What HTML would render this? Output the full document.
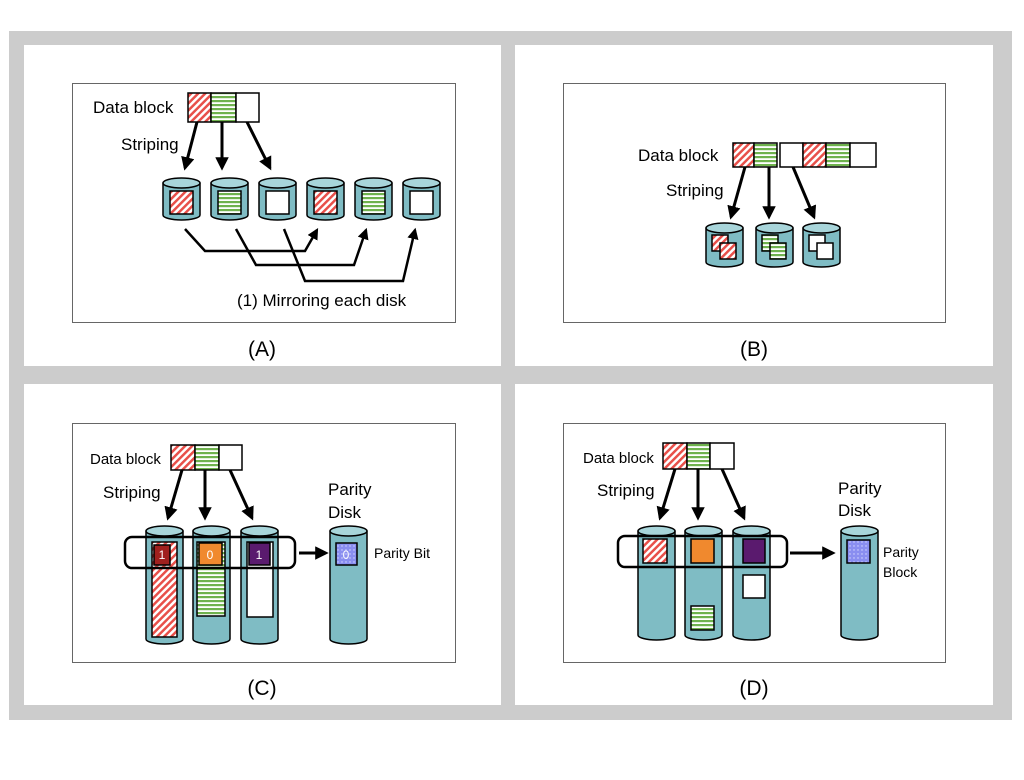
<!DOCTYPE html>
<html><head><meta charset="utf-8"><style>
html,body{margin:0;padding:0;background:#fff;}
svg{display:block;font-family:"Liberation Sans",sans-serif;}
</style></head><body>
<svg width="1024" height="780" viewBox="0 0 1024 780" xmlns="http://www.w3.org/2000/svg">
<defs>
<pattern id="red" patternUnits="userSpaceOnUse" width="5" height="5" patternTransform="rotate(45)">
<rect width="5" height="5" fill="#fff"/><rect width="2.5" height="5" fill="#e8504a"/></pattern>
<pattern id="grn" patternUnits="userSpaceOnUse" width="4" height="4">
<rect width="4" height="4" fill="#fff"/><rect width="4" height="2.2" fill="#6fb24e"/></pattern>
<pattern id="blu" patternUnits="userSpaceOnUse" width="4" height="4">
<rect width="4" height="4" fill="#8a8ef0"/><circle cx="2" cy="2" r="0.7" fill="#d8daff"/></pattern>
<marker id="ah" viewBox="0 0 10 10" refX="8" refY="5" markerWidth="4.5" markerHeight="4.5" orient="auto">
<path d="M0,0 L10,5 L0,10 z" fill="#000"/></marker>
</defs>
<rect x="9" y="31" width="1003" height="689" fill="#cccccc"/>
<rect x="24" y="45" width="477" height="321" fill="#fff"/>
<rect x="515" y="45" width="478" height="321" fill="#fff"/>
<rect x="24" y="384" width="477" height="321" fill="#fff"/>
<rect x="515" y="384" width="478" height="321" fill="#fff"/>
<g fill="none" stroke="#666" stroke-width="1">
<rect x="72.5" y="83.5" width="383" height="239"/>
<rect x="563.5" y="83.5" width="382" height="239"/>
<rect x="72.5" y="423.5" width="383" height="239"/>
<rect x="563.5" y="423.5" width="382" height="239"/>
</g>
<g font-size="21" fill="#000" text-anchor="middle">
<text x="262" y="356">(A)</text><text x="754" y="356">(B)</text>
<text x="262" y="695">(C)</text><text x="754" y="695">(D)</text>
</g>

<!-- Panel A -->
<text x="93" y="113" font-size="17">Data block</text>
<text x="121" y="150" font-size="17">Striping</text>
<g stroke="#000" stroke-width="1.5">
<rect x="188" y="93" width="23" height="29" fill="url(#red)"/>
<rect x="211" y="93" width="25" height="29" fill="url(#grn)"/>
<rect x="236" y="93" width="23" height="29" fill="#fff"/>
</g>
<g stroke="#000" stroke-width="3" marker-end="url(#ah)" fill="none">
<line x1="197" y1="122" x2="185" y2="168"/>
<line x1="222" y1="122" x2="222" y2="168"/>
<line x1="247" y1="122" x2="270" y2="168"/>
</g>
<g stroke="#000" stroke-width="1.5">
<g transform="translate(163,177)"><path d="M0,6 L0,38 A18.5,5 0 0 0 37,38 L37,6" fill="#7fbcc4"/><ellipse cx="18.5" cy="6" rx="18.5" ry="5" fill="#a8d5da"/><rect x="7" y="14" width="23" height="23" fill="url(#red)"/></g>
<g transform="translate(211,177)"><path d="M0,6 L0,38 A18.5,5 0 0 0 37,38 L37,6" fill="#7fbcc4"/><ellipse cx="18.5" cy="6" rx="18.5" ry="5" fill="#a8d5da"/><rect x="7" y="14" width="23" height="23" fill="url(#grn)"/></g>
<g transform="translate(259,177)"><path d="M0,6 L0,38 A18.5,5 0 0 0 37,38 L37,6" fill="#7fbcc4"/><ellipse cx="18.5" cy="6" rx="18.5" ry="5" fill="#a8d5da"/><rect x="7" y="14" width="23" height="23" fill="#fff"/></g>
<g transform="translate(307,177)"><path d="M0,6 L0,38 A18.5,5 0 0 0 37,38 L37,6" fill="#7fbcc4"/><ellipse cx="18.5" cy="6" rx="18.5" ry="5" fill="#a8d5da"/><rect x="7" y="14" width="23" height="23" fill="url(#red)"/></g>
<g transform="translate(355,177)"><path d="M0,6 L0,38 A18.5,5 0 0 0 37,38 L37,6" fill="#7fbcc4"/><ellipse cx="18.5" cy="6" rx="18.5" ry="5" fill="#a8d5da"/><rect x="7" y="14" width="23" height="23" fill="url(#grn)"/></g>
<g transform="translate(403,177)"><path d="M0,6 L0,38 A18.5,5 0 0 0 37,38 L37,6" fill="#7fbcc4"/><ellipse cx="18.5" cy="6" rx="18.5" ry="5" fill="#a8d5da"/><rect x="7" y="14" width="23" height="23" fill="#fff"/></g>
</g>
<g stroke="#000" stroke-width="2.5" fill="none" marker-end="url(#ah)">
<polyline points="185,229 205,251 305,251 317,230"/>
<polyline points="236,229 256,265 354,265 366,230"/>
<polyline points="284,229 305,281 403,281 415,230"/>
</g>
<text x="237" y="306" font-size="17">(1) Mirroring each disk</text>

<!-- Panel B -->
<text x="638" y="161" font-size="17">Data block</text>
<text x="666" y="196" font-size="17">Striping</text>
<g stroke="#000" stroke-width="1.5">
<rect x="733" y="143" width="21" height="24" fill="url(#red)"/>
<rect x="754" y="143" width="23" height="24" fill="url(#grn)"/>
<rect x="780" y="143" width="23" height="24" fill="#fff"/>
<rect x="803" y="143" width="23" height="24" fill="url(#red)"/>
<rect x="826" y="143" width="24" height="24" fill="url(#grn)"/>
<rect x="850" y="143" width="26" height="24" fill="#fff"/>
</g>
<g stroke="#000" stroke-width="3" marker-end="url(#ah)" fill="none">
<line x1="745" y1="167" x2="731" y2="217"/>
<line x1="769" y1="167" x2="769" y2="217"/>
<line x1="793" y1="167" x2="814" y2="217"/>
</g>
<g stroke="#000" stroke-width="1.5">
<g transform="translate(706,222)"><path d="M0,6 L0,40 A18.5,5 0 0 0 37,40 L37,6" fill="#7fbcc4"/><ellipse cx="18.5" cy="6" rx="18.5" ry="5" fill="#a8d5da"/><rect x="6" y="13" width="16" height="16" fill="url(#red)"/><rect x="14" y="21" width="16" height="16" fill="url(#red)"/></g>
<g transform="translate(756,222)"><path d="M0,6 L0,40 A18.5,5 0 0 0 37,40 L37,6" fill="#7fbcc4"/><ellipse cx="18.5" cy="6" rx="18.5" ry="5" fill="#a8d5da"/><rect x="6" y="13" width="16" height="16" fill="url(#grn)"/><rect x="14" y="21" width="16" height="16" fill="url(#grn)"/></g>
<g transform="translate(803,222)"><path d="M0,6 L0,40 A18.5,5 0 0 0 37,40 L37,6" fill="#7fbcc4"/><ellipse cx="18.5" cy="6" rx="18.5" ry="5" fill="#a8d5da"/><rect x="6" y="13" width="16" height="16" fill="#fff"/><rect x="14" y="21" width="16" height="16" fill="#fff"/></g>
</g>

<!-- Panel C -->
<text x="90" y="464" font-size="15">Data block</text>
<text x="103" y="498" font-size="17">Striping</text>
<g stroke="#000" stroke-width="1.5">
<rect x="171" y="445" width="24" height="25" fill="url(#red)"/>
<rect x="195" y="445" width="24" height="25" fill="url(#grn)"/>
<rect x="219" y="445" width="23" height="25" fill="#fff"/>
</g>
<g stroke="#000" stroke-width="3" marker-end="url(#ah)" fill="none">
<line x1="182" y1="470" x2="168" y2="518"/>
<line x1="205" y1="470" x2="205" y2="518"/>
<line x1="230" y1="470" x2="252" y2="518"/>
</g>
<g stroke="#000" stroke-width="1.5">
<g transform="translate(146,525)"><path d="M0,6 L0,114 A18.5,5 0 0 0 37,114 L37,6" fill="#7fbcc4"/><ellipse cx="18.5" cy="6" rx="18.5" ry="5" fill="#a8d5da"/></g>
<g transform="translate(193,525)"><path d="M0,6 L0,114 A18.5,5 0 0 0 37,114 L37,6" fill="#7fbcc4"/><ellipse cx="18.5" cy="6" rx="18.5" ry="5" fill="#a8d5da"/></g>
<g transform="translate(241,525)"><path d="M0,6 L0,114 A18.5,5 0 0 0 37,114 L37,6" fill="#7fbcc4"/><ellipse cx="18.5" cy="6" rx="18.5" ry="5" fill="#a8d5da"/></g>
<g transform="translate(330,525)"><path d="M0,6 L0,114 A18.5,5 0 0 0 37,114 L37,6" fill="#7fbcc4"/><ellipse cx="18.5" cy="6" rx="18.5" ry="5" fill="#a8d5da"/></g>
<rect x="152" y="542" width="25" height="95" fill="url(#red)"/>
<rect x="197" y="542" width="28" height="74" fill="url(#grn)"/>
<rect x="247" y="542" width="26" height="75" fill="#fff"/>
<rect x="154" y="545" width="16" height="20" fill="#a0201e"/>
<rect x="199" y="543" width="23" height="22" fill="#f0892e"/>
<rect x="249" y="543" width="21" height="22" fill="#5a1a6e"/>
<rect x="336" y="543" width="21" height="22" fill="url(#blu)"/>
</g>
<rect x="125" y="537" width="170" height="31" rx="7" fill="none" stroke="#000" stroke-width="2.5"/>
<line x1="299" y1="553" x2="326" y2="553" stroke="#000" stroke-width="3" marker-end="url(#ah)"/>
<g font-size="12" fill="#fff" text-anchor="middle">
<text x="162" y="559">1</text><text x="210" y="559">0</text><text x="259" y="559">1</text><text x="346" y="559">0</text>
</g>
<text x="328" y="495" font-size="17">Parity</text>
<text x="328" y="518" font-size="17">Disk</text>
<text x="374" y="558" font-size="14">Parity Bit</text>

<!-- Panel D -->
<text x="583" y="463" font-size="15">Data block</text>
<text x="597" y="496" font-size="17">Striping</text>
<g stroke="#000" stroke-width="1.5">
<rect x="663" y="443" width="24" height="26" fill="url(#red)"/>
<rect x="687" y="443" width="23" height="26" fill="url(#grn)"/>
<rect x="710" y="443" width="24" height="26" fill="#fff"/>
</g>
<g stroke="#000" stroke-width="3" marker-end="url(#ah)" fill="none">
<line x1="675" y1="469" x2="660" y2="518"/>
<line x1="698" y1="469" x2="698" y2="518"/>
<line x1="722" y1="469" x2="744" y2="518"/>
</g>
<g stroke="#000" stroke-width="1.5">
<g transform="translate(638,525)"><path d="M0,6 L0,110 A18.5,5 0 0 0 37,110 L37,6" fill="#7fbcc4"/><ellipse cx="18.5" cy="6" rx="18.5" ry="5" fill="#a8d5da"/></g>
<g transform="translate(685,525)"><path d="M0,6 L0,110 A18.5,5 0 0 0 37,110 L37,6" fill="#7fbcc4"/><ellipse cx="18.5" cy="6" rx="18.5" ry="5" fill="#a8d5da"/></g>
<g transform="translate(733,525)"><path d="M0,6 L0,110 A18.5,5 0 0 0 37,110 L37,6" fill="#7fbcc4"/><ellipse cx="18.5" cy="6" rx="18.5" ry="5" fill="#a8d5da"/></g>
<g transform="translate(841,525)"><path d="M0,6 L0,110 A18.5,5 0 0 0 37,110 L37,6" fill="#7fbcc4"/><ellipse cx="18.5" cy="6" rx="18.5" ry="5" fill="#a8d5da"/></g>
<rect x="643" y="539" width="24" height="24" fill="url(#red)"/>
<rect x="691" y="539" width="23" height="24" fill="#f0892e"/>
<rect x="743" y="539" width="22" height="24" fill="#5a1a6e"/>
<rect x="743" y="575" width="22" height="23" fill="#fff"/>
<rect x="691" y="606" width="23" height="24" fill="url(#grn)"/>
<rect x="847" y="540" width="23" height="23" fill="url(#blu)"/>
</g>
<rect x="618" y="536" width="169" height="31" rx="7" fill="none" stroke="#000" stroke-width="2.5"/>
<line x1="790" y1="553" x2="833" y2="553" stroke="#000" stroke-width="3" marker-end="url(#ah)"/>
<text x="838" y="494" font-size="17">Parity</text>
<text x="838" y="516" font-size="17">Disk</text>
<text x="883" y="557" font-size="14">Parity</text>
<text x="883" y="577" font-size="14">Block</text>
</svg>
</body></html>
